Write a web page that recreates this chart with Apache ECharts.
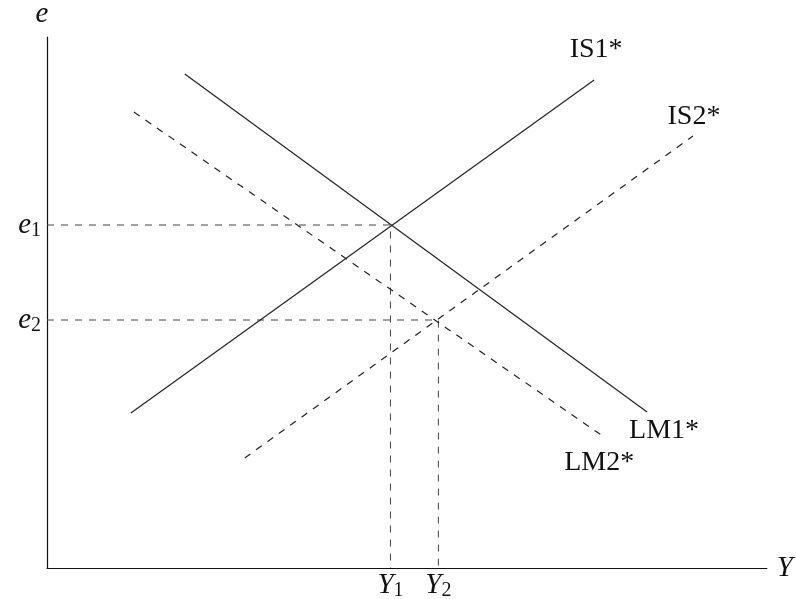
<!DOCTYPE html>
<html>
<head>
<meta charset="utf-8">
<script src="https://cdn.jsdelivr.net/npm/echarts@6/dist/echarts.min.js"></script>
<style>
  html, body { margin: 0; padding: 0; background: #fff; }
  #chart { width: 796px; height: 599px; }
</style>
</head>
<body>
<div id="chart"></div>
<script>
// curve end points (x = output Y, y = exchange rate e)
var is1 = [[84, 155], [548, 488]]
var lm1 = [[138, 494], [601, 156]]
var is2 = [[198, 110], [647, 432]]
var lm2 = [[87, 456], [558, 131]]
// equilibria
var eq1 = [344, 343]
var eq2 = [392, 248]
var curveNames = ['IS1*', 'LM1*', 'IS2*', 'LM2*']
var eLabels = ['1', '2']

var font = "'Liberation Serif', 'Times New Roman', serif"
var chart = echarts.init(document.getElementById('chart'))

function curve(name, pts, dashed, labelPos, dist, offset) {
  return {
    type: 'line',
    name: name,
    symbol: 'circle',
    symbolSize: 0,
    silent: true,
    animation: false,
    lineStyle: { color: '#222', width: 1.2, type: dashed ? [7, 7] : 'solid' },
    data: pts.map(function (p, i) {
      var d = { value: p }
      if (i === pts.length - 1) {
        d.label = {
          show: true,
          formatter: name,
          position: labelPos,
          distance: dist,
          offset: offset,
          fontFamily: font,
          fontSize: 28,
          color: '#111'
        }
      }
      return d
    })
  }
}

function guide(pt, idx) {
  var sub = eLabels[idx]
  var rich = {
    a: { fontFamily: font, fontStyle: 'italic', fontSize: 29, color: '#111' },
    b: { fontFamily: font, fontSize: 20, color: '#111', padding: [12, 0, 0, 0] }
  }
  return {
    type: 'line',
    symbol: 'circle',
    symbolSize: 0,
    silent: true,
    animation: false,
    lineStyle: { color: '#444', width: 1, type: [7, 7] },
    data: [
      { value: [0, pt[1]], label: { show: true, position: 'left', distance: 6, formatter: '{a|e}{b|' + sub + '}', rich: rich } },
      { value: pt },
      { value: [pt[0], 0], label: { show: true, position: 'bottom', distance: 1, formatter: '{a|Y}{b|' + sub + '}', rich: rich } }
    ]
  }
}

var option = {
  backgroundColor: '#fff',
  animation: false,
  grid: { left: 47, right: 28, top: 37, bottom: 31 },
  xAxis: {
    type: 'value', min: 0, max: 721,
    name: 'Y', nameLocation: 'end', nameGap: 10,
    nameTextStyle: { fontFamily: font, fontStyle: 'italic', fontSize: 29, color: '#111' },
    axisLine: { show: true, lineStyle: { color: '#111', width: 1.2 } },
    axisTick: { show: false }, axisLabel: { show: false }, splitLine: { show: false }
  },
  yAxis: {
    type: 'value', min: 0, max: 531,
    name: 'e', nameLocation: 'end', nameGap: 8,
    nameTextStyle: { fontFamily: font, fontStyle: 'italic', fontSize: 29, color: '#111', padding: [0, 10, 0, 0] },
    axisLine: { show: true, lineStyle: { color: '#111', width: 1.2 } },
    axisTick: { show: false }, axisLabel: { show: false }, splitLine: { show: false }
  },
  series: [
    guide(eq1, 0),
    guide(eq2, 1),
    curve(curveNames[0], is1, false, 'top', 16, [2, 0]),
    curve(curveNames[1], lm1, false, 'bottom', 5, [17, 0]),
    curve(curveNames[2], is2, true, 'top', 5, [1, 0]),
    curve(curveNames[3], lm2, true, 'bottom', 12, [-5, 0])
  ]
}
chart.setOption(option)
</script>
</body>
</html>
